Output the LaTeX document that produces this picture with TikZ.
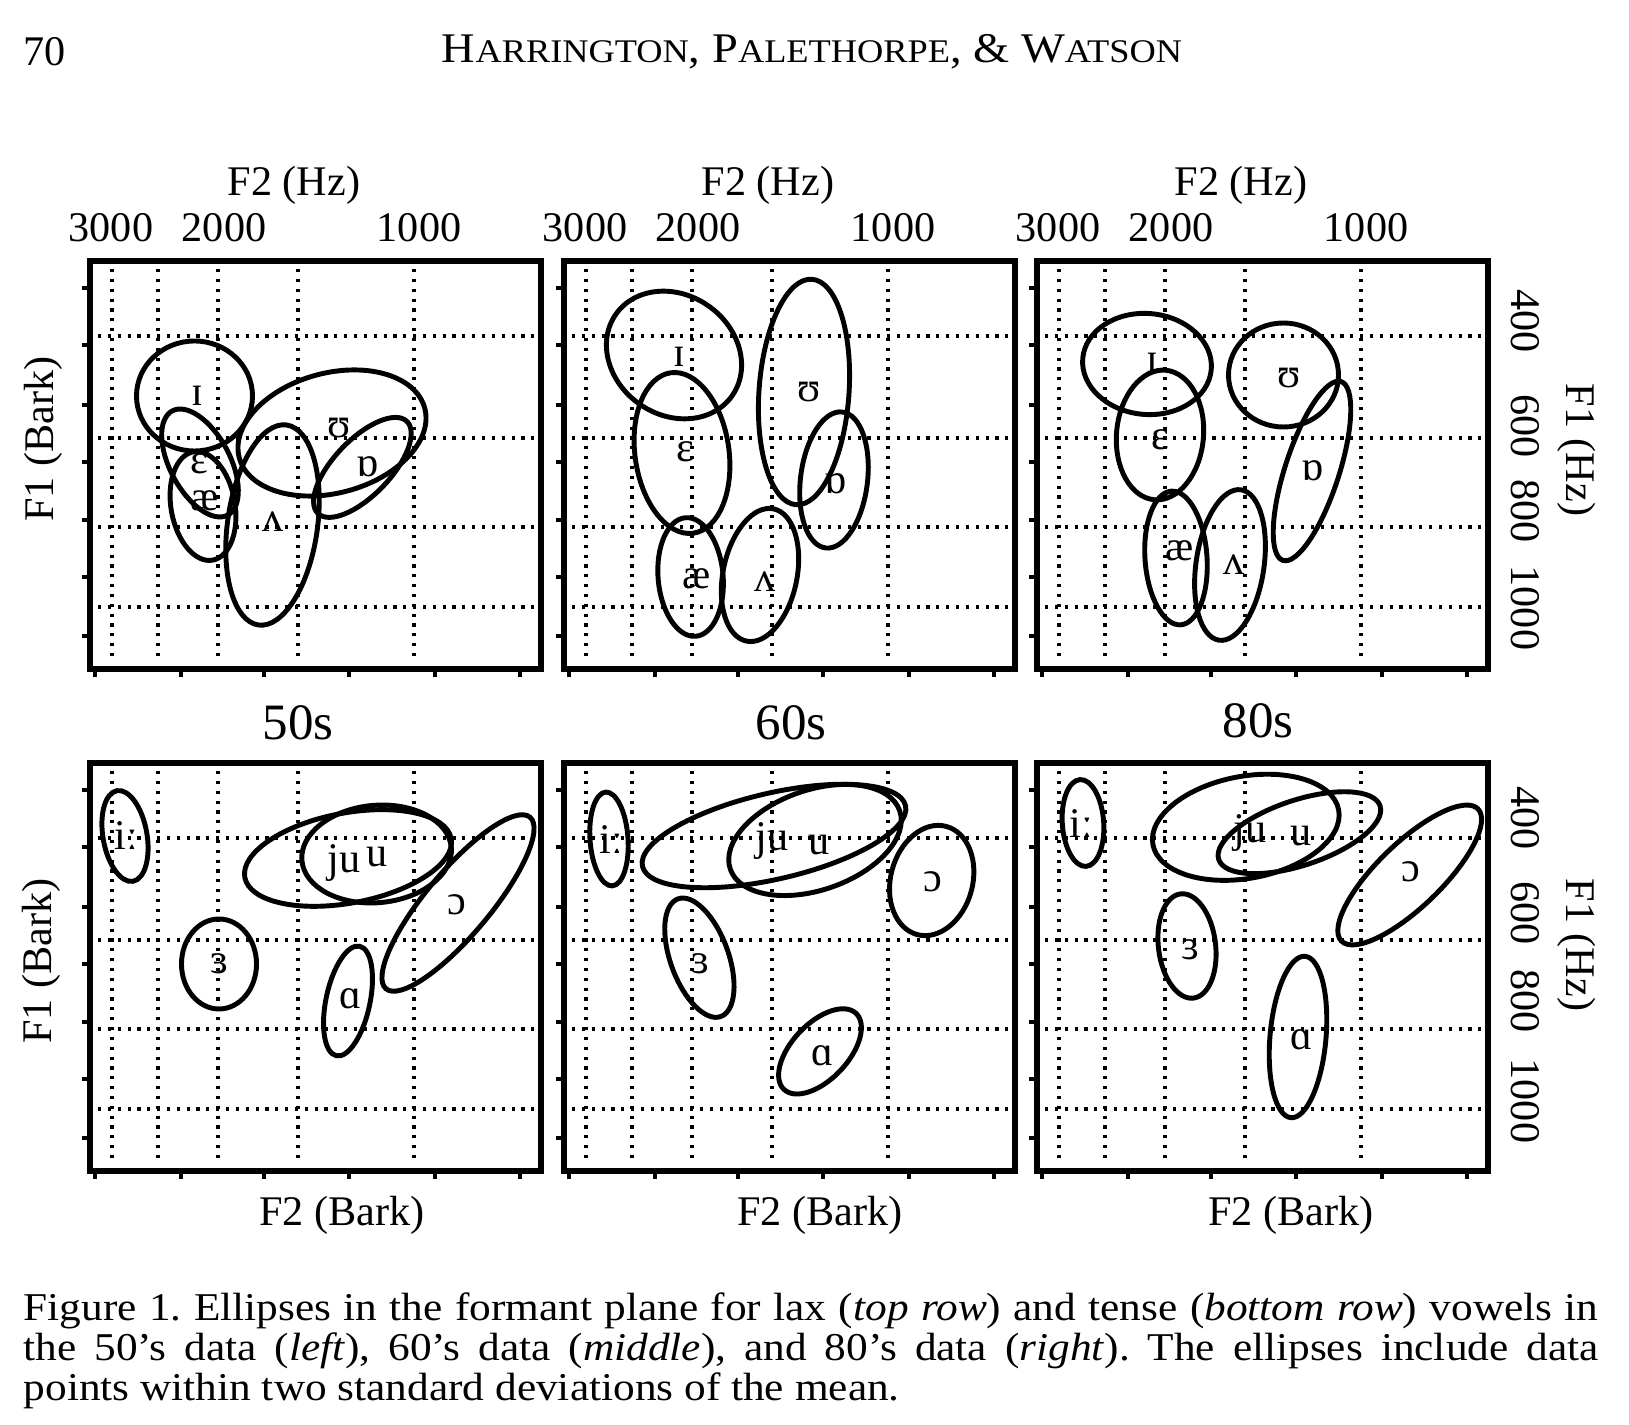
\documentclass[tikz,border=0pt]{standalone}
\usepackage{fontspec}
\setmainfont{Liberation Serif}
\newfontfamily\wideSerif{Liberation Serif}[FakeStretch = 1.1]

\tikzstyle{plotFrame} = [line width = 1.5pt]
\tikzstyle{gridDot} = [line width = 1pt,
                       dash pattern = on 0.9pt off 1.9pt
                       ]
\tikzstyle{tickMark} = [line width = 0.9pt]
\tikzstyle{vowelEll} = [line width = 1.4pt]
\tikzstyle{vowelLab} = [inner sep = 0pt,
                        font = \fontsize{12}{12}\selectfont
                        ]
\tikzstyle{axisLab} = [inner sep = 0pt,
                       font = \fontsize{12}{12}\selectfont
                       ]
\tikzstyle{decadeLab} = [inner sep = 0pt,
                         font = \fontsize{14.5}{14.5}\selectfont
                         ]

\newcommand{\smallCaps}[2]{#1{\fontsize{9.4}{9.4}\selectfont #2}}

\begin{document}
\begin{tikzpicture}[x = 0.01cm, y = -0.01cm]

    \useasboundingbox (0, 0) rectangle (1629, 1425);

    %%% Running head
    \node (pg) at (23, 52) [anchor = west, inner sep = 0pt, font = \fontsize{12}{12}\selectfont]{70};
    \node (hd) at (812, 52) [inner sep = 0pt, font = \wideSerif\fontsize{12}{12}\selectfont]{\smallCaps{H}{ARRINGTON}, \smallCaps{P}{ALETHORPE}, \& \smallCaps{W}{ATSON}};

    %%% Frames, grids and ticks
    \foreach \px/\py in {90/261, 564/261, 1037/261, 90/763, 564/763, 1037/763}{
        \begin{scope}[shift = {(\px, \py)}]
            \foreach \gx in {22, 68, 128, 208, 324}
                \draw[gridDot] (\gx, 8) -- (\gx, 400);
            \foreach \gy in {75, 177, 266, 346}
                \draw[gridDot] (8, \gy) -- (444, \gy);
            \foreach \ty in {27, 84, 144, 201, 259, 316, 375}
                \draw[tickMark] (-8, \ty) -- (0, \ty);
            \foreach \tx in {5, 91, 174, 259, 345, 430}
                \draw[tickMark] (\tx, 408) -- (\tx, 416);
            \draw[plotFrame] (0, 0) rectangle (451, 408);
        \end{scope}
    }

    %%% Lax vowels (top row)
    % 50s %
    \begin{scope}[shift = {(90, 261)}]
        \node (hzA) at (204, -76) [axisLab]{F2 (Hz)};
        \node (kA3) at (21, -33) [axisLab]{3000};
        \node (kA2) at (134, -33) [axisLab]{2000};
        \node (kA1) at (329, -33) [axisLab]{1000};
        \node (barkA) at (-47, 178) [axisLab, rotate = 90]{F1 (Bark)};

        \draw[vowelEll] (104.5, 135) ellipse (58 and 55);
        \draw[vowelEll, rotate around = {-62:(110, 202)}] (110, 202) ellipse (59 and 30);
        \draw[vowelEll, rotate around = {-80:(113, 245)}] (113, 245) ellipse (55 and 32);
        \draw[vowelEll, rotate around = {82:(182.5, 264)}] (182.5, 264) ellipse (101 and 45);
        \draw[vowelEll, rotate around = {15:(242, 172)}] (242, 172) ellipse (96 and 60);
        \draw[vowelEll, rotate around = {46:(272.4, 206.4)}] (272.4, 206.4) ellipse (64 and 28);

        \node (aI) at (107, 135) [vowelLab]{ɪ};
        \node (aE) at (109, 203) [vowelLab]{ɛ};
        \node (aAe) at (115, 240) [vowelLab]{æ};
        \node (aV) at (183, 261) [vowelLab]{ʌ};
        \node (aU) at (249, 167) [vowelLab]{ʊ};
        \node (aO) at (278, 205.5) [vowelLab]{ɒ};
    \end{scope}

    % 60s %
    \begin{scope}[shift = {(564, 261)}]
        \node (hzB) at (204, -76) [axisLab]{F2 (Hz)};
        \node (kB3) at (21, -33) [axisLab]{3000};
        \node (kB2) at (134, -33) [axisLab]{2000};
        \node (kB1) at (329, -33) [axisLab]{1000};

        \draw[vowelEll, rotate around = {-35:(110, 94)}] (110, 94) ellipse (71 and 60);
        \draw[vowelEll, rotate around = {-82:(118, 192)}] (118, 192) ellipse (81 and 47);
        \draw[vowelEll, rotate around = {-85:(126.6, 316)}] (126.6, 316) ellipse (59.5 and 32.5);
        \draw[vowelEll, rotate around = {78.5:(196, 314)}] (196, 314) ellipse (67.5 and 37);
        \draw[vowelEll, rotate around = {86:(240, 131)}] (240, 131) ellipse (113 and 45);
        \draw[vowelEll, rotate around = {83:(270, 219)}] (270, 219) ellipse (68.5 and 33.5);

        \node (bI) at (115, 96) [vowelLab]{ɪ};
        \node (bE) at (121.6, 191) [vowelLab]{ɛ};
        \node (bAe) at (133, 318) [vowelLab]{æ};
        \node (bV) at (201, 321) [vowelLab]{ʌ};
        \node (bU) at (245, 131) [vowelLab]{ʊ};
        \node (bO) at (272, 222.5) [vowelLab]{ɒ};
    \end{scope}

    % 80s %
    \begin{scope}[shift = {(1037, 261)}]
        \node (hzC) at (204, -76) [axisLab]{F2 (Hz)};
        \node (kC3) at (21, -33) [axisLab]{3000};
        \node (kC2) at (134, -33) [axisLab]{2000};
        \node (kC1) at (329, -33) [axisLab]{1000};
        \node (fC4) at (488, 60) [axisLab, rotate = -90]{400};
        \node (fC6) at (488, 165) [axisLab, rotate = -90]{600};
        \node (fC8) at (488, 250) [axisLab, rotate = -90]{800};
        \node (fC10) at (488, 347) [axisLab, rotate = -90]{1000};
        \node (hzF1C) at (540, 189) [axisLab, rotate = -90]{F1 (Hz)};

        \draw[vowelEll, rotate around = {-5:(110, 103)}] (110, 103) ellipse (64.5 and 50.5);
        \draw[vowelEll, rotate around = {85:(123, 174)}] (123, 174) ellipse (65 and 43.5);
        \draw[vowelEll, rotate around = {-86:(139, 297)}] (139, 297) ellipse (67 and 31);
        \draw[vowelEll, rotate around = {81.7:(193, 304)}] (193, 304) ellipse (76 and 34);
        \draw[vowelEll] (246.5, 114) ellipse (55 and 52);
        \draw[vowelEll, rotate around = {72:(275, 210)}] (275, 210) ellipse (94 and 27);

        \node (cI) at (115, 102) [vowelLab]{ɪ};
        \node (cE) at (123, 179) [vowelLab]{ɛ};
        \node (cAe) at (143, 290) [vowelLab]{æ};
        \node (cV) at (197, 304) [vowelLab]{ʌ};
        \node (cU) at (252.5, 117) [vowelLab]{ʊ};
        \node (cO) at (276, 210) [vowelLab]{ɒ};
    \end{scope}

    %%% Tense vowels (bottom row)
    % 50s %
    \begin{scope}[shift = {(90, 763)}]
        \node (decA) at (208, -40) [decadeLab]{50s};
        \node (barkD) at (-49, 198) [axisLab, rotate = 90]{F1 (Bark)};
        \node (brkA) at (252, 452) [axisLab]{F2 (Bark)};

        \draw[vowelEll, rotate around = {-80:(35, 73)}] (35, 73) ellipse (46 and 22);
        \draw[vowelEll] (129, 201) ellipse (37.5 and 45);
        \draw[vowelEll, rotate around = {78:(258, 238)}] (258, 238) ellipse (56 and 22);
        \draw[vowelEll, rotate around = {50:(368, 140)}] (368, 140) ellipse (112 and 32);
        \draw[vowelEll, rotate around = {10.7:(258, 95)}] (258, 95) ellipse (105 and 45);
        \draw[vowelEll, rotate around = {5:(286.6, 91)}] (286.6, 91) ellipse (75 and 48.7);

        \node (dI) at (36, 73) [vowelLab]{iː};
        \node (dEr) at (129, 201) [vowelLab]{ɜ};
        \node (dA) at (261, 236) [vowelLab]{ɑ};
        \node (dO) at (367, 142) [vowelLab]{ɔ};
        \node (dJu) at (254, 100) [vowelLab]{ju};
        \node (dU) at (287, 94) [vowelLab]{u};
    \end{scope}

    % 60s %
    \begin{scope}[shift = {(564, 763)}]
        \node (decB) at (227, -40) [decadeLab]{60s};
        \node (brkB) at (256, 452) [axisLab]{F2 (Bark)};

        \draw[vowelEll, rotate around = {-86:(45, 76)}] (45, 76) ellipse (47 and 19);
        \draw[vowelEll, rotate around = {-70:(135.4, 194.7)}] (135.4, 194.7) ellipse (62.6 and 29);
        \draw[vowelEll, rotate around = {46.5:(256, 288.4)}] (256, 288.4) ellipse (52.4 and 28);
        \draw[vowelEll, rotate around = {75:(367.7, 117.5)}] (367.7, 117.5) ellipse (56 and 41);
        \draw[vowelEll, rotate around = {13:(210, 73)}] (210, 73) ellipse (135 and 43);
        \draw[vowelEll, rotate around = {19:(251, 77)}] (251, 77) ellipse (89.6 and 50);

        \node (eI) at (47, 77) [vowelLab]{iː};
        \node (eEr) at (136, 200.7) [vowelLab]{ɜ};
        \node (eA) at (258.6, 292.8) [vowelLab]{ɑ};
        \node (eO) at (369, 119) [vowelLab]{ɔ};
        \node (eJu) at (208, 78.5) [vowelLab]{ju};
        \node (eU) at (255, 82) [vowelLab]{u};
    \end{scope}

    % 80s %
    \begin{scope}[shift = {(1037, 763)}]
        \node (decC) at (221, -42) [decadeLab]{80s};
        \node (brkC) at (254, 452) [axisLab]{F2 (Bark)};
        \node (fF4) at (488, 55) [axisLab, rotate = -90]{400};
        \node (fF6) at (488, 150) [axisLab, rotate = -90]{600};
        \node (fF8) at (488, 238) [axisLab, rotate = -90]{800};
        \node (fF10) at (488, 338) [axisLab, rotate = -90]{1000};
        \node (hzF1F) at (540, 182) [axisLab, rotate = -90]{F1 (Hz)};

        \draw[vowelEll, rotate around = {-86:(46, 60)}] (46, 60) ellipse (43.5 and 20.7);
        \draw[vowelEll, rotate around = {-83:(150, 183)}] (150, 183) ellipse (52.5 and 28.6);
        \draw[vowelEll, rotate around = {85:(261, 274)}] (261, 274) ellipse (81 and 28);
        \draw[vowelEll, rotate around = {44:(372.7, 112)}] (372.7, 112) ellipse (95 and 32);
        \draw[vowelEll, rotate around = {10.6:(208.8, 64.3)}] (208.8, 64.3) ellipse (94.5 and 51);
        \draw[vowelEll, rotate around = {18.4:(262.4, 69.7)}] (262.4, 69.7) ellipse (85 and 32.6);

        \node (fI) at (44, 61) [vowelLab]{iː};
        \node (fEr) at (153, 187) [vowelLab]{ɜ};
        \node (fA) at (264.4, 276.5) [vowelLab]{ɑ};
        \node (fO) at (373.7, 109) [vowelLab]{ɔ};
        \node (fJu) at (212.7, 69.7) [vowelLab]{ju};
        \node (fU) at (264.4, 73) [vowelLab]{u};
    \end{scope}

    %%% Caption
    \node (cap) at (23, 1292) [anchor = north west, inner sep = 0pt, text width = 15.74cm, align = justify,
                               font = \wideSerif\fontsize{11.2}{11.4}\selectfont\frenchspacing]{Figure 1. Ellipses in the formant plane for lax (\textit{top row}) and tense (\textit{bottom row}) vowels in\linebreak the 50’s data (\textit{left}), 60’s data (\textit{middle}), and 80’s data (\textit{right}). The ellipses include data\linebreak points within two standard deviations of the mean.};

\end{tikzpicture}
\end{document}
